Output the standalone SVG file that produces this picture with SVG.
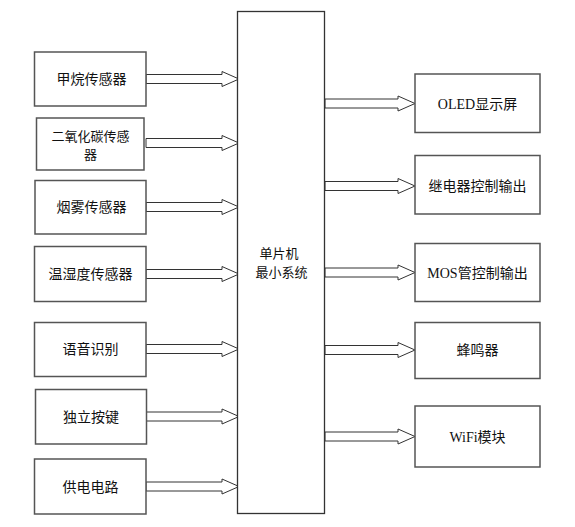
<svg xmlns="http://www.w3.org/2000/svg" width="575" height="527" viewBox="0 0 575 527">
<style>
.box{fill:#fff;stroke:#555;stroke-width:1.5}
.main{fill:#fff;stroke:#333;stroke-width:1.3}
.arr{fill:#fff;stroke:#333;stroke-width:1}
.t{font-family:"Noto Sans CJK SC","Noto Sans",sans-serif;font-size:14px;fill:#111;text-anchor:middle}
.s{font-size:13px}
.r{font-family:"Liberation Serif","Noto Sans CJK SC",serif;font-size:14px;fill:#111;text-anchor:middle}
</style>
<rect width="575" height="527" fill="#fff"/>
<g id="connectors">
<path class="arr" d="M146,74.5H222V71.5L239,79L222,86.5V83.5H146Z"/>
<path class="arr" d="M146,138.5H222V135.5L239,143L222,150.5V147.5H146Z"/>
<path class="arr" d="M146,202.5H222V199.5L239,207L222,214.5V211.5H146Z"/>
<path class="arr" d="M146,269.5H222V266.5L239,274L222,281.5V278.5H146Z"/>
<path class="arr" d="M146,344.5H222V341.5L239,349L222,356.5V353.5H146Z"/>
<path class="arr" d="M146,412H222V409L239,416.5L222,424V421H146Z"/>
<path class="arr" d="M146,482H222V479L239,486.5L222,494V491H146Z"/>
<path class="arr" d="M325,99H398V96L415,103.5L398,111V108H325Z"/>
<path class="arr" d="M325,181.5H398V178.5L415,186L398,193.5V190.5H325Z"/>
<path class="arr" d="M325,268H398V265L415,272.5L398,280V277H325Z"/>
<path class="arr" d="M325,345.5H398V342.5L415,350L398,357.5V354.5H325Z"/>
<path class="arr" d="M325,432H398V429L415,436.5L398,444V441H325Z"/>
</g>
<g id="mcu">
<rect class="main" x="237.5" y="11.5" width="87" height="502"/>
<text class="t s" x="279" y="258">单片机</text>
<text class="t s" x="281.5" y="276.5">最小系统</text>
</g>
<g id="n1"><rect class="box" x="34.5" y="52" width="111.5" height="54"/><text class="t" x="91.5" y="84">甲烷传感器</text></g>
<g id="n2"><rect class="box" x="36.5" y="118" width="107.5" height="52"/><text class="t s" x="90.5" y="140.5">二氧化碳传感</text><text class="t s" x="90.5" y="159">器</text></g>
<g id="n3"><rect class="box" x="35" y="180.5" width="111" height="53.5"/><text class="t" x="91.5" y="212">烟雾传感器</text></g>
<g id="n4"><rect class="box" x="34.5" y="246.5" width="111.5" height="55"/><text class="t" x="90.5" y="279">温湿度传感器</text></g>
<g id="n5"><rect class="box" x="34.5" y="322.5" width="111.5" height="54"/><text class="t" x="90.5" y="354">语音识别</text></g>
<g id="n6"><rect class="box" x="35.5" y="389.5" width="111" height="54.5"/><text class="t" x="91" y="421.5">独立按键</text></g>
<g id="n7"><rect class="box" x="34.5" y="459" width="111.5" height="55"/><text class="t" x="90.5" y="491.5">供电电路</text></g>
<g id="o1"><rect class="box" x="415" y="74" width="125" height="58.5"/><text class="r" x="477.5" y="109">OLED显示屏</text></g>
<g id="o2"><rect class="box" x="415" y="155.5" width="125" height="58.5"/><text class="r" x="477.5" y="191">继电器控制输出</text></g>
<g id="o3"><rect class="box" x="415" y="243.5" width="125" height="58"/><text class="r" x="477.5" y="277.5">MOS管控制输出</text></g>
<g id="o4"><rect class="box" x="415" y="322.5" width="125" height="56"/><text class="r" x="477.5" y="355">蜂鸣器</text></g>
<g id="o5"><rect class="box" x="415" y="406" width="125" height="61"/><text class="r" x="477.5" y="441.5">WiFi模块</text></g>
</svg>
